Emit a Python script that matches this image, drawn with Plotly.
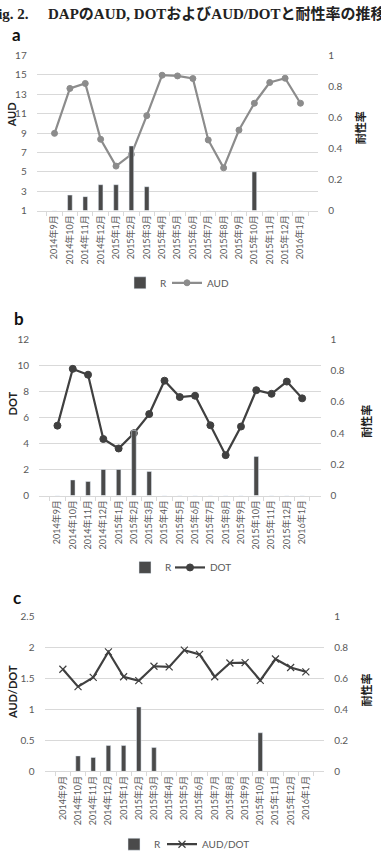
import plotly.graph_objects as go

cats = ["2014年9月", "2014年10月", "2014年11月", "2014年12月", "2015年1月", "2015年2月",
        "2015年3月", "2015年4月", "2015年5月", "2015年6月", "2015年7月", "2015年8月",
        "2015年9月", "2015年10月", "2015年11月", "2015年12月", "2016年1月"]

R = [0, 0.10, 0.09, 0.167, 0.167, 0.417, 0.154, 0, 0, 0, 0, 0, 0, 0.25, 0, 0, 0]
AUD = [8.97, 13.61, 14.12, 8.36, 5.59, 6.8, 10.8, 14.97, 14.9, 14.63, 8.29, 5.41,
       9.31, 12.08, 14.22, 14.66, 12.08]
DOT = [5.38, 9.75, 9.3, 4.35, 3.62, 4.8, 6.27, 8.84, 7.58, 7.68, 5.41, 3.11,
       5.31, 8.11, 7.83, 8.77, 7.48]
AUD_DOT = [1.654, 1.372, 1.521, 1.936, 1.532, 1.468, 1.702, 1.691, 1.963, 1.894,
           1.532, 1.755, 1.761, 1.473, 1.819, 1.681, 1.612]

W, H = 381, 864
def px(p):
    return p / W
def py(p):
    return 1 - p / H

FONT = "Lato, 'Noto Sans CJK JP', sans-serif"
TICK_C = "#595959"
GRID_C = "#d9d9d9"
BAR_C = "#4a4a4a"
DARK_C = "#404040"
LIGHT_C = "#8c8c8c"

panels = [
    dict(xd=(36.7, 318.3), yt=49.3, yb=206.7, rng=[1, 17], dt=2, name="AUD", data=AUD,
         color=LIGHT_C, sym="circle", msize=6, mlw=1, leg_y=280, leg_r=172, leg_l=167),
    dict(xd=(39.0, 320.6), yt=337.7, yb=496.0, rng=[0, 12], dt=2, name="DOT", data=DOT,
         color=DARK_C, sym="circle", msize=7, mlw=1, leg_y=569, leg_r=177, leg_l=170),
    dict(xd=(44.5, 324.2), yt=619.3, yb=776.0, rng=[0, 2.5], dt=0.5, name="AUD/DOT", data=AUD_DOT,
         color=DARK_C, sym="x-thin-open", msize=7, mlw=1.2, leg_y=850, leg_r=166, leg_l=162),
]

fig = go.Figure()
layout = dict(width=W, height=H, margin=dict(l=0, r=0, t=0, b=0),
              paper_bgcolor="white", plot_bgcolor="white", showlegend=True,
              font=dict(family=FONT, size=10, color=TICK_C))

def legkey(n):
    return "legend" if n == 1 else f"legend{n}"

for i, p in enumerate(panels):
    k = i + 1
    xname = "x" if k == 1 else f"x{k}"
    yl = 2 * i + 1
    yr = 2 * i + 2
    ylname = "y" if yl == 1 else f"y{yl}"
    yrname = f"y{yr}"
    leg_bar = legkey(2 * i + 1)
    leg_line = legkey(2 * i + 2)

    fig.add_trace(go.Scatter(
        x=cats, y=p["data"], name=p["name"], mode="lines+markers",
        xaxis=xname, yaxis=ylname, legend=leg_line, showlegend=True,
        line=dict(color=p["color"], width=2.2),
        marker=dict(symbol=p["sym"], size=p["msize"], color=p["color"],
                    line=dict(color=p["color"], width=p["mlw"])),
    ))
    fig.add_trace(go.Bar(
        x=cats, y=R, name="R", xaxis=xname, yaxis=yrname, legend=leg_bar, showlegend=True,
        marker=dict(color=BAR_C), width=0.3,
    ))

    xkey = "xaxis" if k == 1 else f"xaxis{k}"
    ylkey = "yaxis" if yl == 1 else f"yaxis{yl}"
    yrkey = f"yaxis{yr}"
    ydom = [py(p["yb"]), py(p["yt"])]
    layout[xkey] = dict(domain=[px(p["xd"][0]), px(p["xd"][1])], anchor=ylname,
                        type="category", tickangle=-90, ticks="outside", tickson="boundaries",
                        ticklen=4, tickcolor=GRID_C, showline=True, linecolor=GRID_C,
                        linewidth=1, showgrid=False, zeroline=False,
                        tickfont=dict(size=9, color=TICK_C, family=FONT), fixedrange=True)
    layout[ylkey] = dict(domain=ydom, anchor=xname, range=p["rng"], dtick=p["dt"],
                         tick0=p["rng"][0], showgrid=True, gridcolor=GRID_C, gridwidth=1,
                         zeroline=False, showline=False, ticks="", ticklabelstandoff=9,
                         tickfont=dict(size=10, color=TICK_C, family=FONT))
    layout[yrkey] = dict(domain=ydom, anchor=xname, overlaying=ylname, side="right",
                         range=[0, 1], dtick=0.2, tick0=0, showgrid=False, zeroline=False,
                         showline=False, ticks="", ticklabelstandoff=9,
                         tickfont=dict(size=10, color=TICK_C, family=FONT))
    common = dict(orientation="h", y=py(p["leg_y"]), yanchor="middle", visible=True,
                  font=dict(size=10, color=TICK_C, family=FONT),
                  bgcolor="rgba(0,0,0,0)", itemwidth=30)
    layout[leg_bar] = dict(common, x=px(p["leg_r"]), xanchor="right")
    layout[leg_line] = dict(common, x=px(p["leg_l"]), xanchor="left")

fig.update_layout(**layout)

ann = []
TFONT = dict(family="'Liberation Serif', 'Noto Sans CJK JP', serif", size=15, color="#222222")
ann.append(dict(text="<b>Fig. 2.</b>", x=px(31), y=py(7), xref="paper", yref="paper",
                xanchor="right", yanchor="middle", showarrow=False, font=TFONT))
ann.append(dict(text="<b>DAPのAUD, DOTおよびAUD/DOTと耐性率の推移</b>",
                x=px(46), y=py(7), xref="paper", yref="paper", xanchor="left",
                yanchor="middle", showarrow=False, font=TFONT))
for lab, yy, xx in [("a", 28, 16), ("b", 316, 19), ("c", 600, 17)]:
    ann.append(dict(text=f"<b>{lab}</b>", x=px(xx), y=py(yy), xref="paper", yref="paper",
                    xanchor="center", yanchor="middle", showarrow=False,
                    font=dict(family=FONT, size=17, color="#111111")))
for t, xx, yy in [("AUD", 11, 110), ("DOT", 12.5, 403), ("AUD/DOT", 12.5, 696),
                  ("耐性率", 360, 123), ("耐性率", 367, 421), ("耐性率", 367, 694)]:
    ann.append(dict(text=f"<b>{t}</b>", x=px(xx), y=py(yy), xref="paper", yref="paper",
                    xanchor="center", yanchor="middle", showarrow=False, textangle=-90,
                    font=dict(family=FONT, size=11, color="#222222")))
fig.update_layout(annotations=ann)

fig.write_html("out.html")
